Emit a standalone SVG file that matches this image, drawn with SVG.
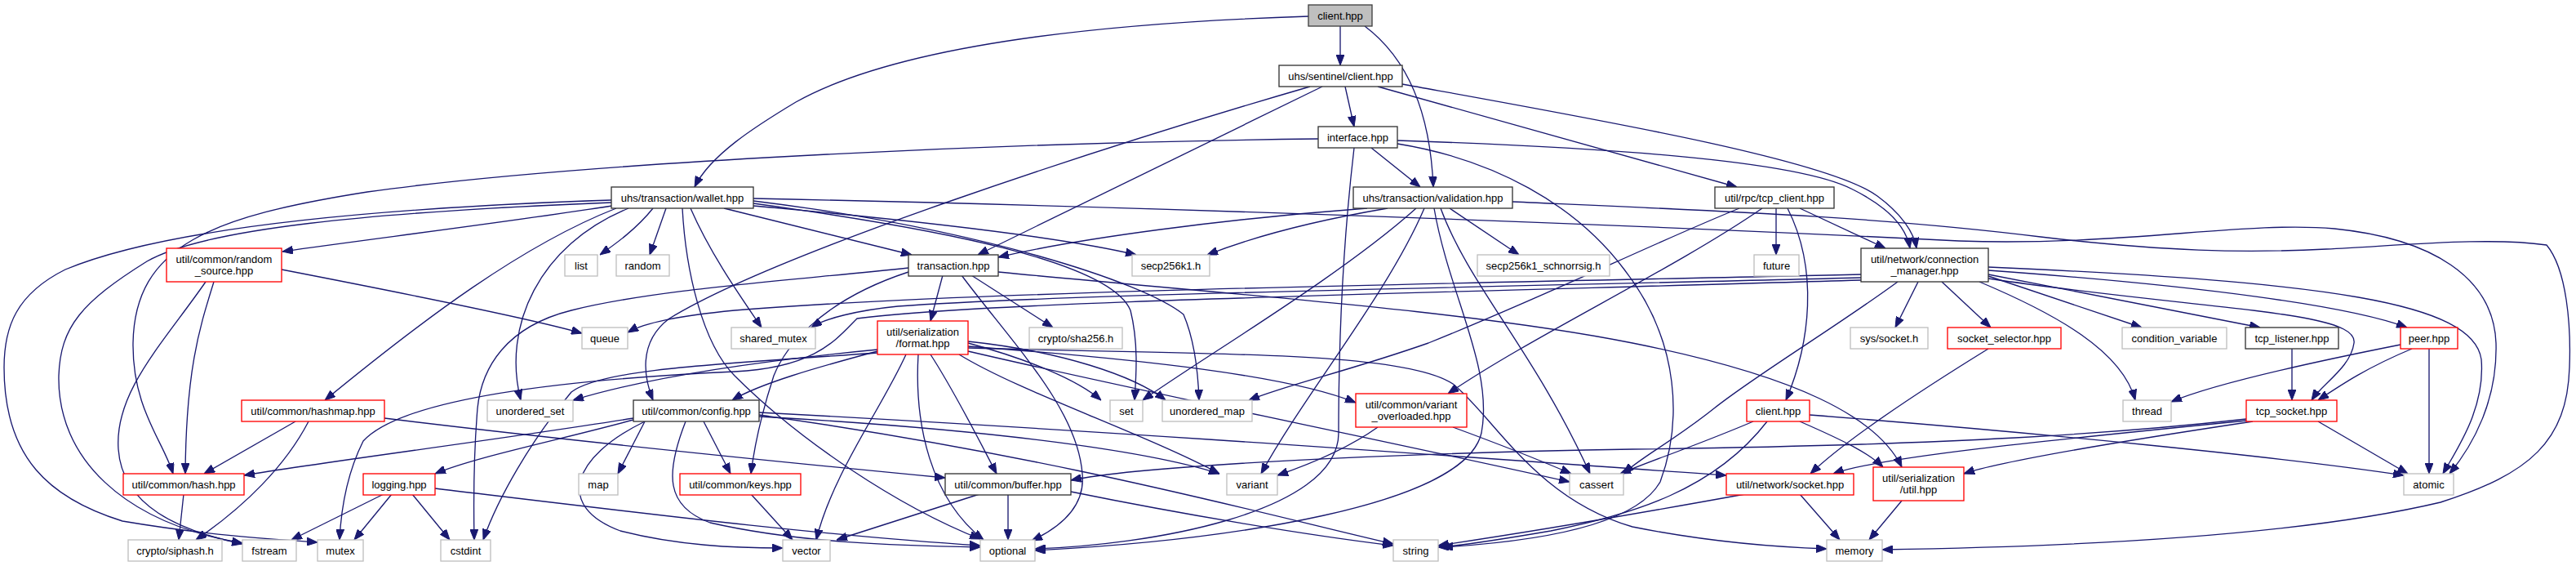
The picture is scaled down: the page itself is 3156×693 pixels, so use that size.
<svg xmlns="http://www.w3.org/2000/svg" width="3156" height="693" viewBox="0 0 3156 693">
<style>
rect{fill:#fff;stroke-width:1.33}
.k{stroke:#333}
.g{stroke:#bfbfbf}
.r{stroke:#f00}
.root{fill:#bfbfbf;stroke:#404040}
text{font-family:"Liberation Sans",Arial,sans-serif;font-size:13px;fill:#000;text-anchor:middle}
#edges path{fill:none;stroke:#191970;stroke-width:1.33;marker-end:url(#a)}
</style>
<defs>
<marker id="a" markerUnits="userSpaceOnUse" markerWidth="13" markerHeight="10" refX="13" refY="5" orient="auto"><path d="M0,0 L13,5 L0,10 z" fill="#191970" stroke="#191970" stroke-width="1"/></marker>
</defs>
<rect x="0" y="0" width="3156" height="693" style="fill:#fff;stroke:none"/>
<g id="edges">
<path d="M1642,32 L1642,80"/>
<path d="M1672,32 C1720,68 1752,130 1756,229"/>
<path d="M1603,20 C1350,28 1100,55 975,125 C925,155 870,190 851,229"/>
<path d="M1648,106 L1659,155"/>
<path d="M1620,106 L1198,312"/>
<path d="M1688,106 L2128,229"/>
<path d="M1718,103 C1950,145 2240,195 2300,240 C2330,262 2345,285 2348,304"/>
<path d="M1605,106 C1350,180 950,310 820,390 C780,420 790,465 800,490"/>
<path d="M1680,181 L1740,229"/>
<path d="M1712,172 C1950,180 2200,195 2270,232 C2310,252 2335,275 2340,304"/>
<path d="M1712,176 C1830,195 1930,250 1990,330 C2060,420 2060,520 2034,590 C2000,650 1850,665 1767,670"/>
<path d="M1615,170 C1200,175 700,200 450,235 C260,265 165,300 163,420 C162,500 200,540 212,580"/>
<path d="M1659,181 C1645,300 1640,420 1640,530 C1640,630 1400,668 1268,672"/>
<path d="M800,255 C780,280 755,298 735,312"/>
<path d="M816,255 L796,312"/>
<path d="M750,252 C600,275 450,293 346,308"/>
<path d="M887,255 L1117,312"/>
<path d="M923,252 C1100,268 1300,290 1392,312"/>
<path d="M846,255 C870,310 905,360 933,401"/>
<path d="M755,255 C640,300 520,390 398,490"/>
<path d="M770,255 C660,300 615,400 638,490"/>
<path d="M749,245 C450,255 200,280 80,330 C20,360 5,400 5,450 C5,560 60,610 150,638 C250,655 330,660 389,664"/>
<path d="M749,248 C450,260 250,280 180,320 C100,370 74,400 72,460 C70,560 150,640 297,665"/>
<path d="M836,255 C840,330 860,420 900,460 C980,540 1100,620 1201,660"/>
<path d="M923,249 C1150,280 1360,320 1385,380 C1395,420 1392,460 1390,490"/>
<path d="M923,246 C1200,280 1400,345 1450,385 C1465,420 1468,460 1469,490"/>
<path d="M923,243 C1500,255 2100,280 2400,295 C2600,302 2750,270 2860,280 C2980,292 3055,340 3058,420 C3060,490 3030,545 3001,580"/>
<path d="M1675,255 C1500,268 1320,292 1223,315"/>
<path d="M1700,255 C1600,272 1530,292 1479,312"/>
<path d="M1776,255 L1861,312"/>
<path d="M1735,255 C1640,340 1470,440 1400,490"/>
<path d="M1745,255 C1700,360 1600,480 1545,580"/>
<path d="M1765,255 C1800,350 1880,430 1948,580"/>
<path d="M1757,255 C1775,360 1830,450 1815,530 C1795,620 1500,662 1268,674"/>
<path d="M1853,247 C2100,258 2300,265 2500,290 C2650,308 2750,310 2850,305 C2950,300 3050,290 3120,300 C3145,330 3150,400 3148,450 C3145,540 3100,580 2990,615 C2800,660 2500,670 2306,673"/>
<path d="M2176,255 L2176,312"/>
<path d="M2205,255 L2310,304"/>
<path d="M2190,255 C2228,330 2218,420 2188,490"/>
<path d="M2131,255 C2020,300 1900,360 1750,420 C1650,455 1580,470 1530,490"/>
<path d="M2159,255 C2050,330 1880,410 1774,482"/>
<path d="M2350,345 L2322,401"/>
<path d="M2379,345 L2439,401"/>
<path d="M2436,338 L2624,401"/>
<path d="M2436,336 L2769,401"/>
<path d="M2436,331 C2700,350 2880,375 2949,401"/>
<path d="M2436,341 C2700,380 2890,380 2884,420 C2880,450 2845,470 2832,490"/>
<path d="M2425,345 C2520,385 2600,430 2616,490"/>
<path d="M2436,327 C2850,345 3030,370 3040,440 C3045,500 3010,550 2993,580"/>
<path d="M2325,345 C2250,400 2150,460 2100,500 C2050,540 2010,560 1989,580"/>
<path d="M2280,336 C1900,345 1200,355 900,380 C830,387 790,395 769,407"/>
<path d="M2280,340 C1900,350 1300,360 1100,375 C1050,380 1010,390 994,401"/>
<path d="M2280,343 C1700,360 1200,370 1050,390 C1025,415 1000,450 900,455 C750,462 500,480 445,540 C425,580 418,620 416,661"/>
<path d="M1075,430 C1000,450 930,470 897,490"/>
<path d="M1075,428 C950,440 800,460 702,490"/>
<path d="M1186,420 C1260,440 1320,465 1349,490"/>
<path d="M1186,418 C1300,430 1390,460 1428,490"/>
<path d="M1175,434 C1250,480 1400,530 1494,580"/>
<path d="M1186,424 C1400,440 1580,460 1661,493"/>
<path d="M1186,430 C1400,480 1700,540 1923,590"/>
<path d="M1140,434 C1170,480 1200,540 1221,580"/>
<path d="M1110,434 C1080,500 1020,580 1000,661"/>
<path d="M1125,434 C1120,520 1140,610 1205,661"/>
<path d="M1186,426 C1500,435 1720,430 1780,470 C1830,510 1880,610 2000,645 C2100,665 2180,670 2238,672"/>
<path d="M1075,432 C900,445 740,450 700,480 C650,540 610,610 592,661"/>
<path d="M1155,337 L1140,393"/>
<path d="M1190,337 L1290,401"/>
<path d="M1113,333 C1000,370 960,430 948,460 C935,500 925,540 920,580"/>
<path d="M1178,337 C1240,420 1320,500 1326,580 C1330,620 1300,645 1264,662"/>
<path d="M1113,328 C950,345 800,355 700,380 C620,400 590,450 585,500 C580,560 580,610 581,661"/>
<path d="M1223,333 C1500,360 1800,380 2000,420 C2200,460 2300,510 2330,572"/>
<path d="M345,330 C500,360 650,390 713,408"/>
<path d="M262,345 C245,400 228,450 227,580"/>
<path d="M252,345 C200,420 140,480 145,550 C150,620 220,650 297,666"/>
<path d="M362,516 L250,580"/>
<path d="M378,516 C350,570 300,620 240,661"/>
<path d="M471,512 C700,540 950,565 1158,585"/>
<path d="M776,512 C600,540 400,565 299,582"/>
<path d="M776,514 C680,540 580,560 533,580"/>
<path d="M790,516 L757,580"/>
<path d="M862,516 L895,580"/>
<path d="M840,516 C815,580 815,620 870,640 C980,665 1100,668 1201,670"/>
<path d="M790,516 C700,560 680,620 760,650 C830,668 900,671 959,671"/>
<path d="M930,505 C1400,530 1800,560 2115,582"/>
<path d="M930,510 C1200,525 1400,550 1494,580"/>
<path d="M930,508 C1300,560 1550,630 1707,666"/>
<path d="M470,605 L357,661"/>
<path d="M480,605 L434,661"/>
<path d="M505,605 L551,661"/>
<path d="M533,598 C800,630 1000,655 1201,668"/>
<path d="M920,605 L971,661"/>
<path d="M1200,605 L1025,661"/>
<path d="M1235,605 L1235,661"/>
<path d="M1312,602 C1450,630 1600,655 1707,668"/>
<path d="M1688,523 C1650,550 1600,570 1565,582"/>
<path d="M1780,523 C1840,545 1890,565 1925,580"/>
<path d="M2148,516 C2080,545 2020,565 1985,580"/>
<path d="M2165,516 C2100,600 2000,630 1900,650 C1830,662 1790,668 1762,670"/>
<path d="M2205,516 C2260,540 2290,555 2307,572"/>
<path d="M2217,508 C2500,530 2800,560 2945,582"/>
<path d="M2205,605 L2254,661"/>
<path d="M2138,605 C2000,630 1850,655 1762,668"/>
<path d="M2330,613 L2290,661"/>
<path d="M2752,513 C2600,530 2400,545 2000,550 C1700,555 1400,570 1312,588"/>
<path d="M2752,515 C2500,540 2300,560 2246,580"/>
<path d="M2760,516 C2600,540 2450,565 2406,580"/>
<path d="M2840,516 L2950,580"/>
<path d="M2941,422 C2800,450 2700,475 2660,492"/>
<path d="M2955,427 C2900,450 2870,470 2840,490"/>
<path d="M2976,427 L2976,580"/>
<path d="M2808,427 L2808,490"/>
<path d="M2436,427 C2350,480 2260,540 2218,580"/>
<path d="M225,605 L219,661"/>
</g>
<g id="n_root"><rect class="root" x="1603" y="6" width="78" height="26"/><text x="1642" y="23.5">client.hpp</text></g>
<g id="n_sentinel"><rect class="k" x="1567" y="80" width="151" height="26"/><text x="1642.5" y="97.5">uhs/sentinel/client.hpp</text></g>
<g id="n_interface"><rect class="k" x="1615" y="155" width="97" height="26"/><text x="1663.5" y="172.5">interface.hpp</text></g>
<g id="n_wallet"><rect class="k" x="749" y="229" width="174" height="26"/><text x="836" y="246.5">uhs/transaction/wallet.hpp</text></g>
<g id="n_validation"><rect class="k" x="1658" y="229" width="195" height="26"/><text x="1755.5" y="246.5">uhs/transaction/validation.hpp</text></g>
<g id="n_tcpclient"><rect class="k" x="2101" y="229" width="146" height="26"/><text x="2174" y="246.5">util/rpc/tcp_client.hpp</text></g>
<g id="n_random_source"><rect class="r" x="204" y="304" width="141" height="41"/><text x="274.5" y="321.5">util/common/random</text><text x="274.5" y="335.5">_source.hpp</text></g>
<g id="n_list"><rect class="g" x="692" y="312" width="40" height="26"/><text x="712" y="329.5">list</text></g>
<g id="n_random"><rect class="g" x="755" y="312" width="65" height="26"/><text x="787.5" y="329.5">random</text></g>
<g id="n_transaction"><rect class="k" x="1113" y="312" width="110" height="26"/><text x="1168" y="329.5">transaction.hpp</text></g>
<g id="n_secp"><rect class="g" x="1387" y="312" width="95" height="26"/><text x="1434.5" y="329.5">secp256k1.h</text></g>
<g id="n_schnorr"><rect class="g" x="1810" y="312" width="162" height="26"/><text x="1891" y="329.5">secp256k1_schnorrsig.h</text></g>
<g id="n_future"><rect class="g" x="2149" y="312" width="55" height="26"/><text x="2176.5" y="329.5">future</text></g>
<g id="n_cm"><rect class="k" x="2280" y="304" width="156" height="41"/><text x="2358" y="321.5">util/network/connection</text><text x="2358" y="335.5">_manager.hpp</text></g>
<g id="n_queue"><rect class="g" x="713" y="401" width="56" height="26"/><text x="741" y="418.5">queue</text></g>
<g id="n_shared_mutex"><rect class="g" x="896" y="401" width="103" height="26"/><text x="947.5" y="418.5">shared_mutex</text></g>
<g id="n_format"><rect class="r" x="1075" y="393" width="111" height="41"/><text x="1130.5" y="410.5">util/serialization</text><text x="1130.5" y="424.5">/format.hpp</text></g>
<g id="n_sha256"><rect class="g" x="1261" y="401" width="114" height="26"/><text x="1318" y="418.5">crypto/sha256.h</text></g>
<g id="n_syssocket"><rect class="g" x="2267" y="401" width="95" height="26"/><text x="2314.5" y="418.5">sys/socket.h</text></g>
<g id="n_socket_selector"><rect class="r" x="2386" y="401" width="139" height="26"/><text x="2455.5" y="418.5">socket_selector.hpp</text></g>
<g id="n_condvar"><rect class="g" x="2600" y="401" width="128" height="26"/><text x="2664" y="418.5">condition_variable</text></g>
<g id="n_tcp_listener"><rect class="k" x="2751" y="401" width="114" height="26"/><text x="2808" y="418.5">tcp_listener.hpp</text></g>
<g id="n_peer"><rect class="r" x="2941" y="401" width="70" height="26"/><text x="2976" y="418.5">peer.hpp</text></g>
<g id="n_hashmap"><rect class="r" x="296" y="490" width="175" height="26"/><text x="383.5" y="507.5">util/common/hashmap.hpp</text></g>
<g id="n_unordered_set"><rect class="g" x="597" y="490" width="105" height="26"/><text x="649.5" y="507.5">unordered_set</text></g>
<g id="n_config"><rect class="k" x="776" y="490" width="154" height="26"/><text x="853" y="507.5">util/common/config.hpp</text></g>
<g id="n_set"><rect class="g" x="1360" y="490" width="40" height="26"/><text x="1380" y="507.5">set</text></g>
<g id="n_unordered_map"><rect class="g" x="1424" y="490" width="110" height="26"/><text x="1479" y="507.5">unordered_map</text></g>
<g id="n_variant_overloaded"><rect class="r" x="1661" y="482" width="136" height="41"/><text x="1729" y="499.5">util/common/variant</text><text x="1729" y="513.5">_overloaded.hpp</text></g>
<g id="n_client2"><rect class="r" x="2140" y="490" width="77" height="26"/><text x="2178.5" y="507.5">client.hpp</text></g>
<g id="n_thread"><rect class="g" x="2601" y="490" width="59" height="26"/><text x="2630.5" y="507.5">thread</text></g>
<g id="n_tcp_socket"><rect class="r" x="2752" y="490" width="111" height="26"/><text x="2807.5" y="507.5">tcp_socket.hpp</text></g>
<g id="n_hash"><rect class="r" x="151" y="580" width="148" height="26"/><text x="225" y="597.5">util/common/hash.hpp</text></g>
<g id="n_logging"><rect class="r" x="445" y="580" width="88" height="26"/><text x="489" y="597.5">logging.hpp</text></g>
<g id="n_map"><rect class="g" x="709" y="580" width="48" height="26"/><text x="733" y="597.5">map</text></g>
<g id="n_keys"><rect class="r" x="833" y="580" width="148" height="26"/><text x="907" y="597.5">util/common/keys.hpp</text></g>
<g id="n_buffer"><rect class="k" x="1158" y="580" width="154" height="26"/><text x="1235" y="597.5">util/common/buffer.hpp</text></g>
<g id="n_variant"><rect class="g" x="1503" y="580" width="62" height="26"/><text x="1534" y="597.5">variant</text></g>
<g id="n_cassert"><rect class="g" x="1923" y="580" width="66" height="26"/><text x="1956" y="597.5">cassert</text></g>
<g id="n_socket"><rect class="r" x="2115" y="580" width="156" height="26"/><text x="2193" y="597.5">util/network/socket.hpp</text></g>
<g id="n_ser_util"><rect class="r" x="2295" y="572" width="111" height="41"/><text x="2350.5" y="589.5">util/serialization</text><text x="2350.5" y="603.5">/util.hpp</text></g>
<g id="n_atomic"><rect class="g" x="2945" y="580" width="61" height="26"/><text x="2975.5" y="597.5">atomic</text></g>
<g id="n_siphash"><rect class="g" x="157" y="661" width="115" height="26"/><text x="214.5" y="678.5">crypto/siphash.h</text></g>
<g id="n_fstream"><rect class="g" x="297" y="661" width="66" height="26"/><text x="330" y="678.5">fstream</text></g>
<g id="n_mutex"><rect class="g" x="389" y="661" width="56" height="26"/><text x="417" y="678.5">mutex</text></g>
<g id="n_cstdint"><rect class="g" x="540" y="661" width="61" height="26"/><text x="570.5" y="678.5">cstdint</text></g>
<g id="n_vector"><rect class="g" x="959" y="661" width="58" height="26"/><text x="988" y="678.5">vector</text></g>
<g id="n_optional"><rect class="g" x="1201" y="661" width="67" height="26"/><text x="1234.5" y="678.5">optional</text></g>
<g id="n_string"><rect class="g" x="1707" y="661" width="55" height="26"/><text x="1734.5" y="678.5">string</text></g>
<g id="n_memory"><rect class="g" x="2238" y="661" width="68" height="26"/><text x="2272" y="678.5">memory</text></g>
</svg>
